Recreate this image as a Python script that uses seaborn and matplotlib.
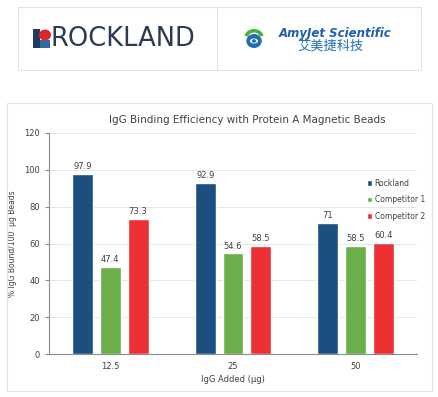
import pandas as pd
import matplotlib
matplotlib.use("Agg")
import matplotlib.pyplot as plt
import seaborn as sns
from matplotlib.patches import Rectangle, Circle, Wedge, Ellipse

# chart data
doses = ["12.5", "25", "50"]
rockland = [97.9, 92.9, 71]
competitor1 = [47.4, 54.6, 58.5]
competitor2 = [73.3, 58.5, 60.4]
series = ["Rockland", "Competitor 1", "Competitor 2"]
colors = ["#1B4F80", "#6BAF4A", "#EE3035"]

rows = []
for name, vals in zip(series, [rockland, competitor1, competitor2]):
    for d, v in zip(doses, vals):
        rows.append({"dose": d, "value": v, "series": name})
df = pd.DataFrame(rows)

sns.set_style("white")
plt.rcParams["font.family"] = ["DejaVu Sans", "Noto Sans CJK SC"]

W, H = 439, 397
fig = plt.figure(figsize=(W / 100, H / 100), dpi=100)
fig.patch.set_facecolor("white")


def fx(x):
    return x / W


def fy(y):
    return 1 - y / H


# banner with the two logos
fig.patches.append(Rectangle((fx(18), fy(70)), fx(403), 63 / H, transform=fig.transFigure,
                             fill=False, edgecolor="#E3E3E3", lw=0.8))
fig.lines.append(plt.Line2D([fx(217), fx(217)], [fy(70), fy(7)], transform=fig.transFigure,
                            color="#E3E3E3", lw=0.8))

# rockland icon
fig.patches.append(Rectangle((fx(33), fy(48)), fx(7), 19 / H, transform=fig.transFigure,
                             color="#243A5E", lw=0))
fig.patches.append(Rectangle((fx(40), fy(48)), fx(10), 8 / H, transform=fig.transFigure,
                             color="#2E6DA4", lw=0))
fig.patches.append(Circle((fx(45), fy(35)), 5.5 / H, transform=fig.transFigure,
                          color="#D8262C", lw=0))
fig.text(fx(51), fy(39), "ROCKLAND", fontsize=18.5, color="#2B3A55", va="center", ha="left",
         family="DejaVu Sans")

# amyjet icon
fig.patches.append(Wedge((fx(254), fy(38)), 9 / H, 15, 165, width=3.5 / H, transform=fig.transFigure,
                         color="#4CAF3C", lw=0))
fig.patches.append(Circle((fx(254), fy(41)), 7 / H, transform=fig.transFigure,
                          color="#1F6FB8", lw=0))
fig.patches.append(Ellipse((fx(254), fy(41)), fx(8), 5 / H, transform=fig.transFigure,
                           color="white", lw=0))
fig.patches.append(Circle((fx(254), fy(41)), 1.8 / H, transform=fig.transFigure,
                          color="#1F6FB8", lw=0))
fig.text(fx(279), fy(33), "AmyJet Scientific", fontsize=8.5, color="#1F5FAF", style="italic",
         weight="bold", va="center", ha="left")
fig.text(fx(297), fy(46), "艾美捷科技", fontsize=9.5, color="#1F6FB8", va="center", ha="left",
         family=["Noto Sans CJK SC", "DejaVu Sans"])

# chart border
fig.patches.append(Rectangle((fx(7), fy(391)), fx(425), 288 / H, transform=fig.transFigure,
                             fill=False, edgecolor="#E3E3E3", lw=0.8))

ax = fig.add_axes([fx(49), fy(354), fx(368), 221 / H])
sns.barplot(data=df, x="dose", y="value", hue="series", palette=colors, width=0.68, gap=0.25,
            saturation=1, ax=ax)

for cont in ax.containers:
    labels = [f"{v:g}" for v in cont.datavalues]
    ax.bar_label(cont, labels=labels, padding=2, fontsize=6, color="#404040")

ax.set_ylim(0, 120)
ax.set_xlim(-0.5, 2.5)
ax.set_yticks(range(0, 121, 20))
ax.yaxis.grid(True, color="#E6E6E6", lw=0.7)
ax.set_axisbelow(True)
for s in ["top", "right"]:
    ax.spines[s].set_visible(False)
for s in ["left", "bottom"]:
    ax.spines[s].set_color("#8C8C8C")
    ax.spines[s].set_linewidth(0.8)
ax.set_xticks([-0.5, 0.5, 1.5, 2.5], minor=True)
ax.tick_params(axis="x", which="major", length=0, labelsize=6, colors="#404040", pad=6)
ax.tick_params(axis="x", which="minor", length=3, color="#8C8C8C", direction="out")
ax.tick_params(axis="y", length=3, labelsize=6, colors="#404040", color="#8C8C8C", left=True)

ax.set_xlabel("IgG Added (µg)", fontsize=6, color="#404040", labelpad=3)
ax.set_ylabel("% IgG Bound/100  µg Beads", fontsize=5.5, color="#404040", labelpad=5)
ax.set_title("IgG Binding Efficiency with Protein A Magnetic Beads", fontsize=7.5,
             color="#404040", pad=7, x=0.538)

leg = ax.legend(loc="upper right", bbox_to_anchor=(1.04, 0.825), frameon=False, fontsize=5.5,
                handlelength=0.7, handleheight=0.7, handletextpad=0.3, labelspacing=1.0,
                labelcolor="#404040")

plt.savefig("out.png", dpi=100)
